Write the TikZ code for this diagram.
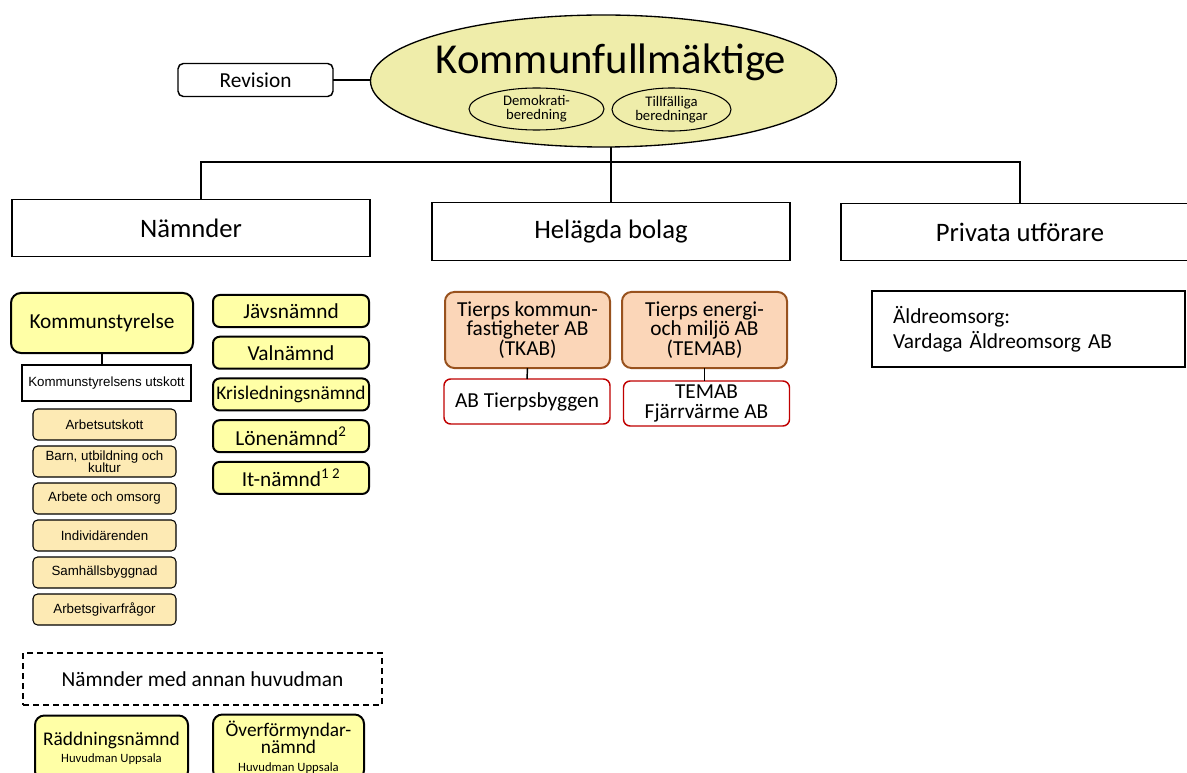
\documentclass[tikz,border=0pt]{standalone}
\usepackage{fontspec}
\setmainfont{Carlito}
\newfontfamily\arialfont{Liberation Sans}
\usepackage{xcolor}
\usepackage{tikz}
\usetikzlibrary{positioning,shapes.geometric}

\definecolor{kfyellow}{RGB}{239,237,170}
\definecolor{ksyellow}{RGB}{255,255,166}
\definecolor{utorange}{RGB}{253,234,180}
\definecolor{bolagfill}{RGB}{251,214,184}
\definecolor{bolagedge}{RGB}{152,82,30}
\definecolor{dotteredge}{RGB}{192,0,0}

\newcommand{\tightlines}{\lineskiplimit=-20pt\relax}

\begin{document}
\begin{tikzpicture}[x=0.75pt, y=-0.75pt,
            every node/.append style = {align = center, inner sep = 0pt, outer sep = 0pt},
            link/.style = {line width = 1.1pt},
            bigbox/.style = {draw, line width = 0.8pt, fill = white, minimum height = 43pt,
                font = \fontsize{20}{22}\selectfont},
            smallell/.style = {draw, ellipse, line width = 0.8pt, fill = kfyellow,
                font = \fontsize{11}{10.5}\selectfont},
            nambox/.style = {draw, line width = 1.5pt, rounded corners = 5pt, fill = ksyellow,
                minimum width = 117pt, minimum height = 24pt, font = \fontsize{16}{17}\selectfont},
            utbox/.style = {draw, line width = 0.8pt, rounded corners = 3.5pt, fill = utorange,
                minimum width = 107.25pt, minimum height = 23.25pt,
                font = \arialfont\fontsize{10}{9}\selectfont\tightlines},
            bolagbox/.style = {draw = bolagedge, line width = 1.5pt, rounded corners = 7pt, fill = bolagfill,
                minimum width = 123.75pt, minimum height = 57pt,
                font = \fontsize{16}{14.5}\selectfont\tightlines},
            dotterbox/.style = {draw = dotteredge, line width = 1.1pt, rounded corners = 5pt, fill = white,
                minimum width = 124.5pt, minimum height = 33.75pt,
                font = \fontsize{16}{15}\selectfont\tightlines},
            annanbox/.style = {draw, line width = 1.5pt, rounded corners = 7pt, fill = ksyellow,
                minimum height = 48.75pt, font = \fontsize{14.5}{13}\selectfont\tightlines}]
            \clip (0,0) rectangle (1187,773);
            % kommunfullmäktige
            \node[draw, ellipse, line width = 1pt, fill = kfyellow, minimum width = 349.5pt, minimum height = 99pt]
                (kf) at (603.5,81) {};
            \node[font = \fontsize{32}{34}\selectfont] (kftitle) at (611,62) {Kommunfullmäktige};
            \node[smallell, minimum width = 101.25pt, minimum height = 31.5pt] (demo) at (536.5,109) {Demokrati-\\beredning};
            \node[smallell, minimum width = 89.25pt, minimum height = 32.25pt] (tillf) at (671.5,109.5) {Tillfälliga\\beredningar};
            \node[draw, line width = 1.1pt, rounded corners = 4pt, fill = white, minimum width = 116.25pt,
                minimum height = 24.75pt, font = \fontsize{16}{17}\selectfont] (rev) at (255.5,80) {Revision};
            \draw[link] (rev.east) -- (rev.east -| kf.west);
            % tre grenar
            \node[bigbox, minimum width = 268.5pt] (namn) at (191,228) {Nämnder};
            \node[bigbox, minimum width = 268.5pt] (hel) at (611,231.5) {Helägda bolag};
            \node[bigbox, minimum width = 268.5pt] (priv) at (1020,232) {Privata utförare};
            \coordinate (split) at (612,162);
            \draw[link] (hel.north |- kf.south) -- (hel.north);
            \draw[link] ([xshift = 7.5pt]namn.north) |- (split) -| (priv.north);
            % nämnder
            \node[nambox, line width = 1.5pt, rounded corners = 7.5pt, minimum width = 136.5pt, minimum height = 45pt]
                (ks) at (102,323) {Kommunstyrelse};
            \node[draw, line width = 0.8pt, fill = white, minimum width = 126.75pt, minimum height = 27pt,
                font = \arialfont\fontsize{10}{11}\selectfont] (ksu) at (106.5,383) {Kommunstyrelsens utskott};
            \draw[link] (ks.south) -- (ks.south |- ksu.north);
            \node[utbox] (au) at (104.5,424.5) {Arbetsutskott};
            \node[utbox, below = 4.5pt of au] (bu) {Barn, utbildning och\\kultur};
            \node[utbox, below = 4.5pt of bu] (ao) {Arbete och omsorg};
            \node[utbox, below = 4.5pt of ao] (ir) {Individärenden};
            \node[utbox, below = 4.5pt of ir] (sb) {Samhällsbyggnad};
            \node[utbox, below = 4.5pt of sb] (ag) {Arbetsgivarfrågor};
            \node[nambox] (jav) at (291,311) {Jävsnämnd};
            \node[nambox, below = 7.3pt of jav] (val) {Valnämnd};
            \node[nambox, below = 7.3pt of val, font = \fontsize{14.5}{15}\selectfont] (kris) {Krisledningsnämnd};
            \node[nambox, below = 7.3pt of kris] (lon) {Lönenämnd\textsuperscript{2}};
            \node[nambox, below = 7.3pt of lon] (it) {It-nämnd\textsuperscript{1 2}};
            % nämnder med annan huvudman
            \node[draw, line width = 1.1pt, dash pattern = on 4.5pt off 3pt, minimum width = 269.25pt,
                minimum height = 39pt, font = \fontsize{16}{17}\selectfont] (annan) at (202.5,679) {Nämnder med annan huvudman};
            \node[annanbox, minimum width = 114.75pt] (radd) at (111.5,748)
                {Räddningsnämnd\\{\fontsize{9.5}{12}\selectfont Huvudman Uppsala}};
            \node[annanbox, minimum width = 113.25pt] (overf) at (288.5,747)
                {Överförmyndar-\\nämnd\\{\fontsize{9.5}{10.5}\selectfont Huvudman Uppsala}};
            % helägda bolag
            \node[bolagbox] (tkab) at (527.5,330) {Tierps kommun-\\fastigheter AB\\(TKAB)};
            \node[bolagbox] (temab) at (704.5,330) {Tierps energi-\\och miljö AB\\(TEMAB)};
            \node[dotterbox] (tby) at (527,401.5) {AB Tierpsbyggen};
            \node[dotterbox] (fjv) at (706.5,403.5) {TEMAB\\Fjärrvärme AB};
            \draw[link] (tkab.south) -- (tby.north);
            \draw[link] (temab.south) -- (temab.south |- fjv.north);
            % privata utförare
            \node[draw, line width = 0.8pt, fill = white, text width = 203.25pt, align = left, inner xsep = 15.75pt,
                minimum height = 57pt, font = \fontsize{16}{18.75}\selectfont] (aldr) at (1028.5,329)
                {Äldreomsorg:\\Vardaga Äldreomsorg AB};
        \end{tikzpicture}
\end{document}
